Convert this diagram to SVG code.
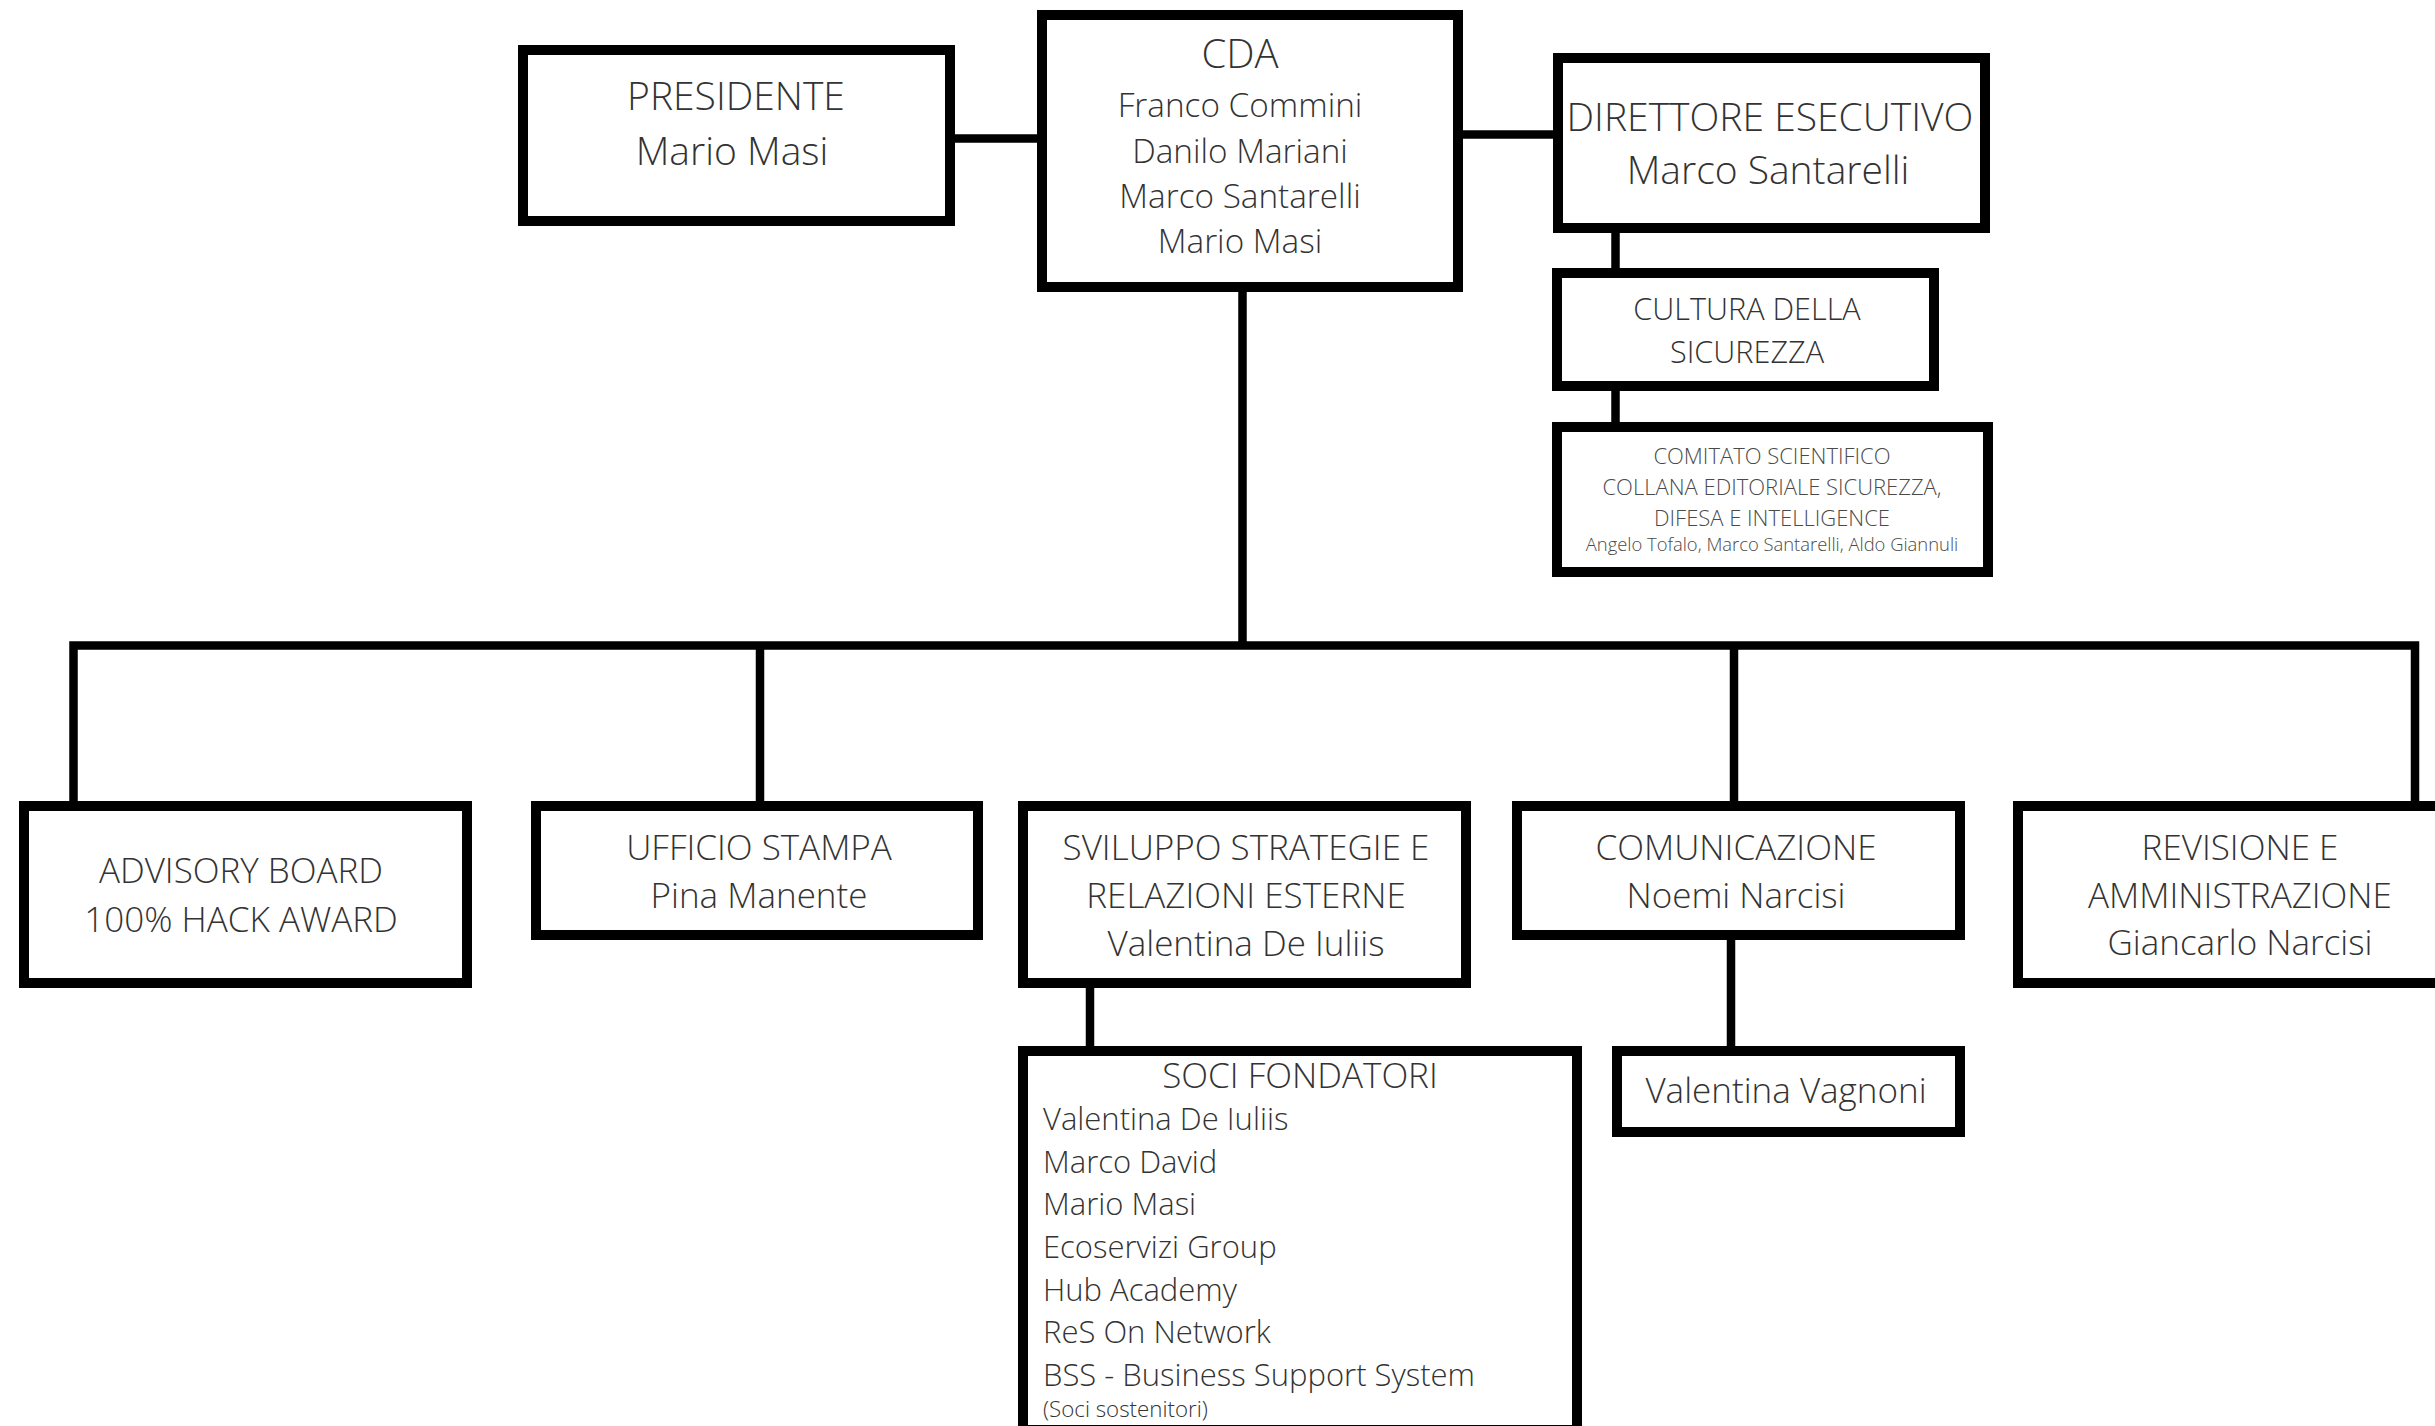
<svg xmlns="http://www.w3.org/2000/svg" width="2435" height="1426" viewBox="0 0 2435 1426">
<style>
.box{fill:#fff;stroke:#000;stroke-width:10}
.ln{fill:none;stroke:#000;stroke-width:8.5;stroke-linejoin:miter;stroke-linecap:butt}
text{font-family:"Open Sans","Noto Sans","Liberation Sans",sans-serif;font-weight:300;fill:#333}
.c{text-anchor:middle}
.t0{font-size:40px}
.t1{font-size:39px}
.t2{font-size:33.3px}
.t3{font-size:35px}
.t4{font-size:30.6px}
.t5{font-size:22px;fill:#4a4a4a}
.t6{font-size:18.4px;fill:#4a4a4a}
.t7{font-size:31px}
.t8{font-size:22.3px}
</style>
<rect width="2435" height="1426" fill="#fff"/>
<g id="connectors">
<path class="ln" d="M955 138.5H1037"/>
<path class="ln" d="M1463 134.5H1553"/>
<path class="ln" d="M1242.5 292V645.5"/>
<path class="ln" d="M73.5 801V645.5H2415V801"/>
<path class="ln" d="M760 645.5V801"/>
<path class="ln" d="M1734 645.5V801"/>
<path class="ln" d="M1615.5 233V268"/>
<path class="ln" d="M1615.5 391V422"/>
<path class="ln" d="M1090 988V1046"/>
<path class="ln" d="M1731 940V1046"/>
</g>
<g id="presidente">
<rect class="box" x="523" y="50" width="427" height="171"/>
<text class="c t1" x="736" y="110">PRESIDENTE</text>
<text class="c t1" x="732" y="165">Mario Masi</text>
</g>
<g id="cda">
<rect class="box" x="1042" y="15" width="416" height="272"/>
<text class="c t0" x="1240" y="68">CDA</text>
<text class="c t2" x="1240" y="117">Franco Commini</text>
<text class="c t2" x="1240" y="163">Danilo Mariani</text>
<text class="c t2" x="1240" y="208">Marco Santarelli</text>
<text class="c t2" x="1240" y="253">Mario Masi</text>
</g>
<g id="direttore">
<rect class="box" x="1558" y="58" width="427" height="170"/>
<text class="c t1" x="1770" y="131">DIRETTORE ESECUTIVO</text>
<text class="c t1" x="1768" y="184">Marco Santarelli</text>
</g>
<g id="cultura">
<rect class="box" x="1557" y="273" width="377" height="113"/>
<text class="c t4" x="1747" y="320">CULTURA DELLA</text>
<text class="c t4" x="1747" y="363">SICUREZZA</text>
</g>
<g id="comitato">
<rect class="box" x="1557" y="427" width="431" height="145"/>
<text class="c t5" x="1772" y="464">COMITATO SCIENTIFICO</text>
<text class="c t5" x="1772" y="495">COLLANA EDITORIALE SICUREZZA,</text>
<text class="c t5" x="1772" y="526">DIFESA E INTELLIGENCE</text>
<text class="c t6" x="1772" y="551">Angelo Tofalo, Marco Santarelli, Aldo Giannuli</text>
</g>
<g id="advisory">
<rect class="box" x="24" y="806" width="443" height="177"/>
<text class="c t3" x="241" y="883">ADVISORY BOARD</text>
<text class="c t3" x="241" y="932">100% HACK AWARD</text>
</g>
<g id="ufficio">
<rect class="box" x="536" y="806" width="442" height="129"/>
<text class="c t3" x="759" y="860">UFFICIO STAMPA</text>
<text class="c t3" x="759" y="908">Pina Manente</text>
</g>
<g id="sviluppo">
<rect class="box" x="1023" y="806" width="443" height="177"/>
<text class="c t3" x="1246" y="860">SVILUPPO STRATEGIE E</text>
<text class="c t3" x="1246" y="908">RELAZIONI ESTERNE</text>
<text class="c t3" x="1246" y="956">Valentina De Iuliis</text>
</g>
<g id="comunicazione">
<rect class="box" x="1517" y="806" width="443" height="129"/>
<text class="c t3" x="1736" y="860">COMUNICAZIONE</text>
<text class="c t3" x="1736" y="908">Noemi Narcisi</text>
</g>
<g id="revisione">
<rect class="box" x="2018" y="806" width="443" height="177"/>
<text class="c t3" x="2240" y="860">REVISIONE E</text>
<text class="c t3" x="2240" y="908">AMMINISTRAZIONE</text>
<text class="c t3" x="2240" y="955">Giancarlo Narcisi</text>
</g>
<g id="soci">
<rect class="box" x="1023" y="1051" width="554" height="379"/>
<text class="c t3" x="1300" y="1088">SOCI FONDATORI</text>
<text class="t7" x="1043" y="1130">Valentina De Iuliis</text>
<text class="t7" x="1043" y="1173">Marco David</text>
<text class="t7" x="1043" y="1215">Mario Masi</text>
<text class="t7" x="1043" y="1258">Ecoservizi Group</text>
<text class="t7" x="1043" y="1301">Hub Academy</text>
<text class="t7" x="1043" y="1343">ReS On Network</text>
<text class="t7" x="1043" y="1386">BSS - Business Support System</text>
<text class="t8" x="1043" y="1417">(Soci sostenitori)</text>
</g>
<g id="vagnoni">
<rect class="box" x="1617" y="1051" width="343" height="81"/>
<text class="c t3" x="1786" y="1103">Valentina Vagnoni</text>
</g>
</svg>
